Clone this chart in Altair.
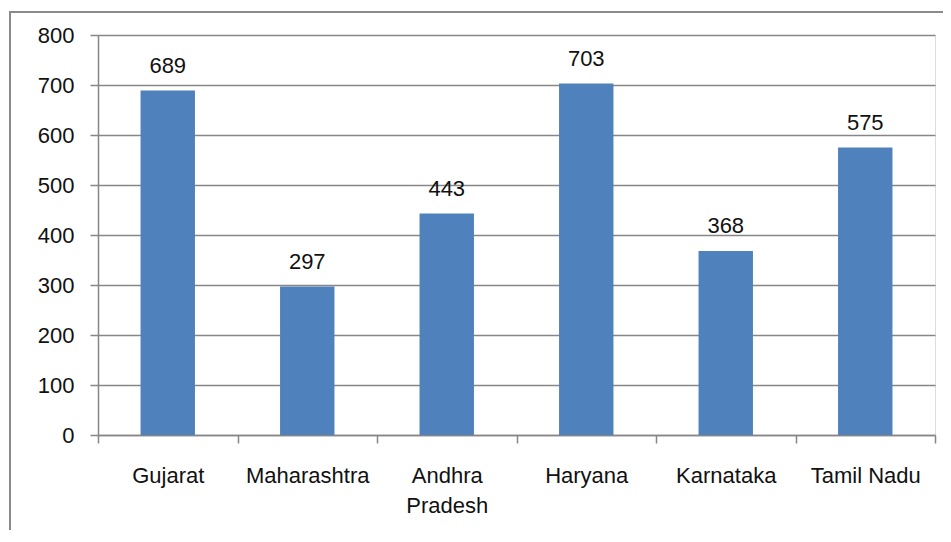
import altair as alt
import pandas as pd

states = ["Gujarat", "Maharashtra", "Andhra Pradesh", "Haryana", "Karnataka", "Tamil Nadu"]
values = [689, 297, 443, 703, 368, 575]
y_ticks = [0, 100, 200, 300, 400, 500, 600, 700, 800]

df = pd.DataFrame({"state": states, "value": values})

FONT = "Liberation Sans"
GRAY = "#868686"
FS = 22

x_enc = alt.X(
    "state:N",
    sort=states,
    title=None,
    scale=alt.Scale(paddingInner=0, paddingOuter=0),
    axis=alt.Axis(
        labelAngle=0,
        labelFont=FONT,
        labelFontSize=FS,
        labelColor="#111111",
        labelPadding=22,
        labelLineHeight=30,
        labelBaseline="top",
        labelExpr="datum.label == 'Andhra Pradesh' ? ['Andhra', 'Pradesh'] : datum.label",
        tickBand="extent",
        tickSize=8,
        tickColor=GRAY,
        tickWidth=1.5,
        domainColor=GRAY,
        domainWidth=1.5,
        grid=False,
    ),
)

y_enc = alt.Y(
    "value:Q",
    title=None,
    scale=alt.Scale(domain=[0, 800], nice=False),
    axis=alt.Axis(
        values=y_ticks,
        labelFont=FONT,
        labelFontSize=FS,
        labelColor="#111111",
        labelPadding=16,
        tickSize=8,
        tickColor=GRAY,
        tickWidth=1.5,
        domainColor=GRAY,
        domainWidth=1.5,
        gridColor=GRAY,
        gridWidth=1.5,
    ),
)

bars = alt.Chart(df).mark_bar(color="#4F81BD", width=alt.RelativeBandSize(0.39)).encode(
    x=x_enc, y=y_enc
)

labels = alt.Chart(df).mark_text(
    font=FONT, fontSize=FS, color="#111111", baseline="alphabetic", dy=-18
).encode(x=alt.X("state:N", sort=states), y="value:Q", text="value:Q")

frame = pd.DataFrame({"x0": [0], "x1": [1], "y0": [0], "y1": [1]})

border_left = alt.Chart(frame).mark_rule(stroke="#8a8a8a", strokeWidth=2).encode(
    x=alt.value(-88), y=alt.value(-23), y2=alt.value(600)
)
border_top = alt.Chart(frame).mark_rule(stroke="#8a8a8a", strokeWidth=2).encode(
    x=alt.value(-89), x2=alt.value(1000), y=alt.value(-23)
)

chart = alt.layer(border_left, border_top, bars, labels).properties(
    width=837,
    height=400,
    autosize=alt.AutoSizeParams(type="none"),
    padding={"left": 90, "top": 27, "right": 8, "bottom": 95},
).configure_view(stroke=None).configure(background="white")

chart.save("out.html", embed_options={"renderer": "svg", "actions": False})
